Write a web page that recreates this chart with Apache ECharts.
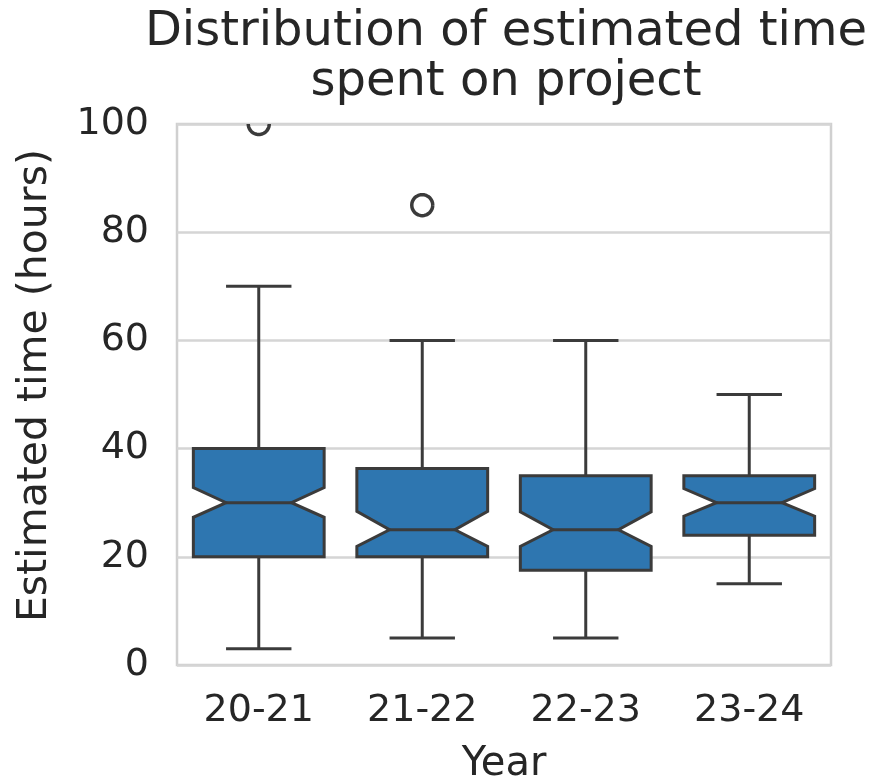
<!DOCTYPE html>
<html>
<head>
<meta charset="utf-8">
<script src="https://cdn.jsdelivr.net/npm/echarts@6/dist/echarts.min.js"></script>
<style>html,body{margin:0;padding:0;background:#fff;}#c{width:870px;height:780px;}</style>
</head>
<body>
<div id="c"></div>
<script>
const categories = ['20-21', '21-22', '22-23', '23-24'];
const whiskerLow = [3, 5, 5, 15];
const q1 = [20, 20, 17.5, 24];
const median = [30, 25, 25, 30];
const q3 = [40, 36.3, 35, 35];
const whiskerHigh = [70, 60, 60, 50];
const notchLow = [27.3, 21.9, 21.9, 27.5];
const notchHigh = [32.8, 28.4, 28.3, 32.6];
const outliers = [[0, 100], [1, 85]];
const yTicks = [0, 20, 40, 60, 80, 100];
const yMin = yTicks[0], yMax = yTicks[yTicks.length - 1];

const FONT = 'DejaVu Sans';
const TXT = '#262626';
const BOX = '#2e76b0';
const EDGE = '#3b3b3b';

const boxData = categories.map((c, i) => [i, whiskerLow[i], q1[i], median[i], q3[i], whiskerHigh[i], notchLow[i], notchHigh[i]]);

const chart = echarts.init(document.getElementById('c'), null, {renderer: 'canvas'});
chart.setOption({
  animation: false,
  backgroundColor: '#fff',
  title: {
    text: 'Distribution of estimated time\nspent on project',
    left: 501, top: 3, textAlign: 'center',
    textStyle: {fontFamily: FONT, fontSize: 48, fontWeight: 'normal', color: TXT, lineHeight: 50}
  },
  grid: {left: 177, right: 39, top: 124, bottom: 115, show: true, borderColor: '#d0d0d0', borderWidth: 2.5,
    backgroundColor: 'transparent', containLabel: false, outerBoundsMode: 'none'},
  xAxis: {
    type: 'category', data: categories,
    name: 'Year', nameLocation: 'middle', nameGap: 80,
    nameTextStyle: {fontFamily: FONT, fontSize: 40, color: TXT},
    axisLine: {show: false}, axisTick: {show: false},
    axisLabel: {fontFamily: FONT, fontSize: 38, color: TXT, margin: 27},
    splitLine: {show: false}
  },
  yAxis: {
    type: 'value', min: yMin, max: yMax, interval: 20,
    name: 'Estimated time (hours)', nameLocation: 'middle', nameGap: 121,
    nameTextStyle: {fontFamily: FONT, fontSize: 41, color: TXT, padding: [0, 0, 0, 18]},
    axisLine: {show: false}, axisTick: {show: false},
    axisLabel: {fontFamily: FONT, fontSize: 38, color: TXT, margin: 28,
      formatter: v => yTicks.includes(v) ? String(v) : ''},
    splitLine: {show: true, lineStyle: {color: '#d5d5d5', width: 2.5}}
  },
  series: [
    {
      type: 'custom',
      clip: true,
      data: boxData,
      encode: {x: 0, y: [1, 2, 3, 4, 5]},
      renderItem: function (params, api) {
        const idx = api.value(0);
        const band = api.size([1, 0])[0];
        const cx = api.coord([idx, 0])[0];
        const hw = band * 0.4;
        const nw = hw * 0.5;
        const y = v => api.coord([idx, v])[1];
        const yWl = y(api.value(1)), yQ1 = y(api.value(2)), yMed = y(api.value(3)),
              yQ3 = y(api.value(4)), yWh = y(api.value(5)), yNl = y(api.value(6)), yNh = y(api.value(7));
        const L = cx - hw, R = cx + hw;
        const lineStyle = {stroke: EDGE, lineWidth: 3, fill: null};
        return {
          type: 'group',
          children: [
            {type: 'line', shape: {x1: cx, y1: yQ3, x2: cx, y2: yWh}, style: lineStyle},
            {type: 'line', shape: {x1: cx, y1: yQ1, x2: cx, y2: yWl}, style: lineStyle},
            {type: 'line', shape: {x1: cx - nw, y1: yWh, x2: cx + nw, y2: yWh}, style: lineStyle},
            {type: 'line', shape: {x1: cx - nw, y1: yWl, x2: cx + nw, y2: yWl}, style: lineStyle},
            {type: 'polygon', shape: {points: [
              [L, yQ3], [R, yQ3], [R, yNh], [cx + nw, yMed], [R, yNl], [R, yQ1],
              [L, yQ1], [L, yNl], [cx - nw, yMed], [L, yNh]
            ]}, style: {fill: BOX, stroke: EDGE, lineWidth: 3, lineJoin: 'miter'}},
            {type: 'line', shape: {x1: cx - nw, y1: yMed, x2: cx + nw, y2: yMed}, style: lineStyle}
          ]
        };
      }
    },
    {
      type: 'custom',
      clip: false,
      data: outliers,
      encode: {x: 0, y: 1},
      renderItem: function (params, api) {
        const p = api.coord([api.value(0), api.value(1)]);
        const top = api.coord([api.value(0), yMax])[1];
        const r = 10.5;
        const s = (top - p[1]) / r;
        let start = 0, end = Math.PI * 2;
        if (s > -1) {
          const a = Math.asin(Math.min(1, s));
          start = a; end = Math.PI - a;
        }
        const pts = [];
        const n = 32;
        for (let k = 0; k <= n; k++) {
          const t = start + (end - start) * k / n;
          pts.push([p[0] + r * Math.cos(t), p[1] + r * Math.sin(t)]);
        }
        return {type: 'polyline', shape: {points: pts},
          style: {fill: null, stroke: EDGE, lineWidth: 3.5, lineJoin: 'round'}};
      }
    }
  ]
});
</script>
</body>
</html>
